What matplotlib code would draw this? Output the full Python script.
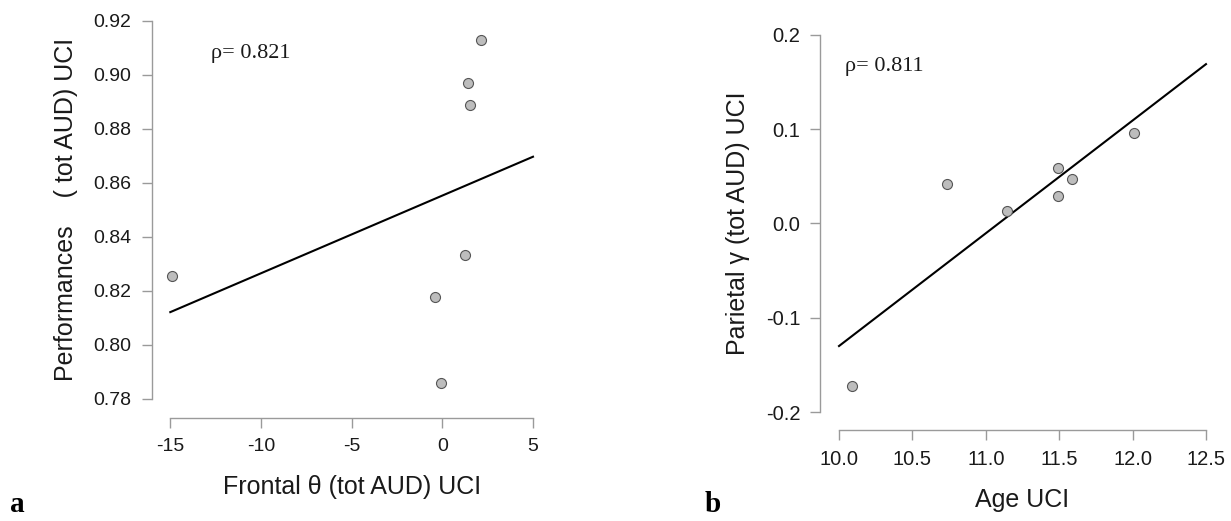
import matplotlib
matplotlib.use("Agg")
import matplotlib.pyplot as plt
import numpy as np

plt.rcParams["font.family"] = ["Liberation Sans", "DejaVu Sans"]

# panel a: Frontal theta vs performances
frontal_theta = [-14.89, -0.40, -0.07, 1.27, 1.42, 1.53, 2.12]
performances = [0.8254, 0.8176, 0.7857, 0.8333, 0.8969, 0.8888, 0.9127]

# panel b: age vs parietal gamma
age = [10.09, 10.738, 11.145, 11.495, 11.495, 11.588, 12.011]
parietal_gamma = [-0.172, 0.042, 0.0133, 0.0589, 0.0292, 0.0466, 0.0957]

a_xticks = [-15, -10, -5, 0, 5]
a_yticks = [0.78, 0.80, 0.82, 0.84, 0.86, 0.88, 0.90, 0.92]
b_xticks = [10.0, 10.5, 11.0, 11.5, 12.0, 12.5]
b_yticks = [-0.2, -0.1, 0.0, 0.1, 0.2]

W, H = 1231, 521
fig = plt.figure(figsize=(W / 100, H / 100), dpi=100)

spine_col = "#9a9a9a"
text_col = "#1a1a1a"


def px_axes(left, top, right, bottom):
    return fig.add_axes([left / W, 1 - bottom / H, (right - left) / W, (bottom - top) / H])


def style_axes(ax, xticks, yticks, xfmt, yfmt, size):
    for s in ["top", "right"]:
        ax.spines[s].set_visible(False)
    for s in ["left", "bottom"]:
        ax.spines[s].set_color(spine_col)
        ax.spines[s].set_linewidth(1.0)
    ax.spines["left"].set_bounds(yticks[0], yticks[-1])
    ax.spines["bottom"].set_bounds(xticks[0], xticks[-1])
    ax.set_xticks(xticks)
    ax.set_yticks(yticks)
    ax.set_xticklabels([xfmt.format(v) for v in xticks])
    ax.set_yticklabels([yfmt.format(v) for v in yticks])
    ax.tick_params(axis="both", colors=spine_col, labelcolor=text_col,
                   labelsize=size, length=7, width=1.0)
    ax.tick_params(axis="x", pad=7.5)
    ax.tick_params(axis="y", pad=7.5)
    ax.patch.set_alpha(0)


def scatter_fit(ax, x, y, xr):
    slope, intercept = np.polyfit(x, y, 1)
    xs = np.array(xr)
    ax.plot(xs, intercept + slope * xs, color="black", lw=1.5, zorder=2)
    ax.scatter(x, y, s=52, facecolor="#bdbdbd", edgecolor="#555555",
               linewidths=0.8, zorder=3)


# ---- panel a ----
ax1 = px_axes(151.7, 1.7, 551.6, 417.5)
scatter_fit(ax1, frontal_theta, performances, [a_xticks[0], a_xticks[-1]])
ax1.set_xlim(-15 - 18.6 / 18.13, 5 + 18.6 / 18.13)
ax1.set_ylim(0.78 - 18.8 / 2701, 0.92 + 18.8 / 2701)
style_axes(ax1, a_xticks, a_yticks, "{:g}", "{:.2f}", 14)
ax1.set_xlabel("Frontal θ (tot AUD) UCI", fontsize=18, color=text_col, va="top")
ax1.xaxis.set_label_coords(0.5, -0.1383)
ax1.set_ylabel("Performances    ( tot AUD) UCI", fontsize=18, color=text_col, va="center")
ax1.yaxis.set_label_coords(-0.2143, 0.5)
ax1.text(-12.76, 0.906, "ρ= 0.821", family=["Liberation Serif", "DejaVu Serif"],
         fontsize=16, ha="left", va="baseline", color=text_col)

# ---- panel b ----
ax2 = px_axes(820.3, 16.6, 1224.7, 430.3)
scatter_fit(ax2, age, parietal_gamma, [b_xticks[0], b_xticks[-1]])
ax2.set_xlim(10 - 18.7 / 146.7, 12.5 + 18.7 / 146.7)
ax2.set_ylim(-0.2 - 18 / 944, 0.2 + 18 / 944)
style_axes(ax2, b_xticks, b_yticks, "{:.1f}", "{:.1f}", 14.5)
ax2.set_xlabel("Age UCI", fontsize=18, color=text_col, va="top")
ax2.xaxis.set_label_coords(0.5, -0.1395)
ax2.set_ylabel("Parietal γ (tot AUD) UCI", fontsize=18, color=text_col, va="center")
ax2.yaxis.set_label_coords(-0.2023, 0.5)
ax2.text(10.04, 0.1613, "ρ= 0.811", family=["Liberation Serif", "DejaVu Serif"],
         fontsize=16, ha="left", va="baseline", color=text_col)

# panel letters
fig.text(10 / W, 9 / H, "a", family=["Liberation Serif", "DejaVu Serif"],
         fontsize=21, fontweight="bold", ha="left", va="baseline")
fig.text(705 / W, 9 / H, "b", family=["Liberation Serif", "DejaVu Serif"],
         fontsize=21, fontweight="bold", ha="left", va="baseline")

fig.savefig("out.png", dpi=100)
